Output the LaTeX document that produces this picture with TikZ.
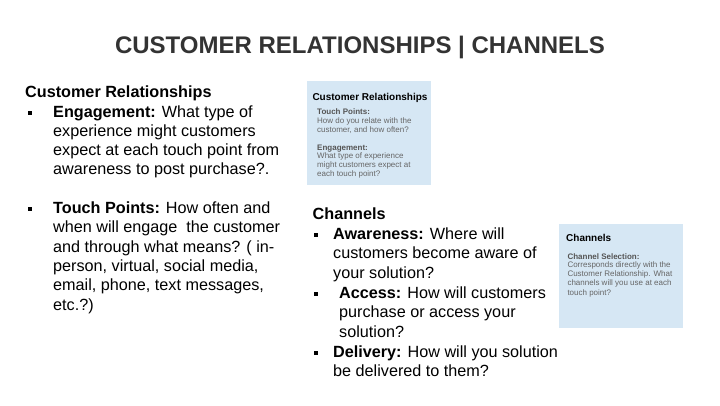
\documentclass[tikz,border=0pt]{standalone}
\usepackage{fontspec}
\setmainfont{Liberation Sans}
\definecolor{titlegray}{HTML}{333333}
\definecolor{boxblue}{HTML}{D6E7F4}
\definecolor{smallgray}{HTML}{666666}
\definecolor{labelgray}{HTML}{555555}
\begin{document}
\begin{tikzpicture}[x=1pt,y=-1pt,
  body/.style={anchor=base west, inner sep=0pt, font=\fontsize{16.2}{19.3}\selectfont},
  head/.style={anchor=base west, inner sep=0pt, font=\fontsize{16.2}{19.3}\selectfont\bfseries},
  bul/.style={fill=black, minimum size=4pt, inner sep=0pt, draw=none},
  boxtitle/.style={anchor=base west, inner sep=0pt, font=\fontsize{10}{12}\selectfont\bfseries},
  smalltxt/.style={anchor=base west, inner sep=0pt, font=\fontsize{8}{9}\selectfont, text=smallgray},
  smalllab/.style={anchor=base west, inner sep=0pt, font=\fontsize{8}{9}\selectfont\bfseries, text=labelgray},
  infobox/.style={fill=boxblue, draw=none}
]
\useasboundingbox[fill=white] (0,0) rectangle (720,405);

% Title
\node[anchor=base, inner sep=0pt, font=\fontsize{24}{28}\selectfont\bfseries, text=titlegray] (title) at (360,53.3) {CUSTOMER RELATIONSHIPS | CHANNELS};

% Left section
\node[head] (crhead) at (25,97) {Customer Relationships};
\node[bul] (b1) at (30,112.5) {};
\node[body] (e1) at (53,117) {\textbf{Engagement:} What type of};
\node[body] (e2) at (53,136.3) {experience might customers};
\node[body] (e3) at (53,155.6) {expect at each touch point from};
\node[body] (e4) at (53,174.9) {awareness to post purchase?.};
\node[bul] (b2) at (30,209) {};
\node[body] (t1) at (53,213.5) {\textbf{Touch Points:} How often and};
\node[body] (t2) at (53,232.8) {when will engage\ \ the customer};
\node[body] (t3) at (53,252.1) {and through what means? ( in-};
\node[body] (t4) at (53,271.4) {person, virtual, social media,};
\node[body] (t5) at (53,290.7) {email, phone, text messages,};
\node[body] (t6) at (53,310) {etc.?)};

% Channels section
\node[head] (chhead) at (312.5,219) {Channels};
\node[bul] (b3) at (315.5,234.5) {};
\node[body] (a1) at (333,239) {\textbf{Awareness:} Where will};
\node[body] (a2) at (333,258.7) {customers become aware of};
\node[body] (a3) at (333,278.4) {your solution?};
\node[bul] (b4) at (315.5,293.6) {};
\node[body] (c1) at (339,298.1) {\textbf{Access:} How will customers};
\node[body] (c2) at (339,317.8) {purchase or access your};
\node[body] (c3) at (339,337.5) {solution?};
\node[bul] (b5) at (315.5,352.7) {};
\node[body] (d1) at (333,357.2) {\textbf{Delivery:} How will you solution};
\node[body] (d2) at (333,376.9) {be delivered to them?};

% Info box 1
\fill[infobox] (307,81.3) rectangle (431,185);
\node[boxtitle] (bx1t) at (312.3,100) {Customer Relationships};
\node[smalllab] (bx1a) at (317,114.7) {Touch Points:};
\node[smalltxt] (bx1b) at (317,123.6) {How do you relate with the};
\node[smalltxt] (bx1c) at (317,132.5) {customer, and how often?};
\node[smalllab] (bx1d) at (317,150) {Engagement:};
\node[smalltxt] (bx1e) at (317,158.8) {What type of experience};
\node[smalltxt] (bx1f) at (317,167.7) {might customers expect at};
\node[smalltxt] (bx1g) at (317,176.6) {each touch point?};

% Info box 2
\fill[infobox] (559,223.5) rectangle (683.3,328.3);
\node[boxtitle] (bx2t) at (566,241.5) {Channels};
\node[smalllab] (bx2a) at (567.3,259) {Channel Selection:};
\node[smalltxt] (bx2b) at (567.3,267.9) {Corresponds directly with the};
\node[smalltxt] (bx2c) at (567.3,276.8) {Customer Relationship. What};
\node[smalltxt] (bx2d) at (567.3,285.9) {channels will you use at each};
\node[smalltxt] (bx2e) at (567.3,295) {touch point?};
\end{tikzpicture}
\end{document}
